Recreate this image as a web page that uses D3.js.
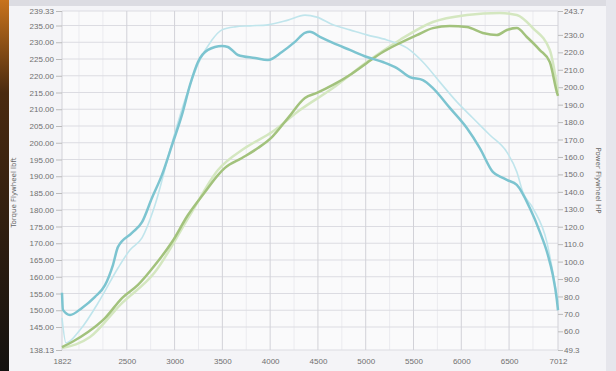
<!DOCTYPE html>
<html>
<head>
<meta charset="utf-8">
<script src="https://cdn.jsdelivr.net/npm/d3@7"></script>
<style>
  body { margin: 0; background: #f2f2f5; }
  svg { display: block; font-family: "DejaVu Sans", sans-serif; }
</style>
</head>
<body>
<script>
// rpm, torque (lbft, left axis) and power (HP, right axis)
const torqueRunA = [
  [1822, 155.2], [1832, 150.1], [1906, 148.6], [2031, 150.7], [2167, 154.0], [2272, 157.5],
  [2355, 163.5], [2408, 168.9], [2554, 173.1], [2659, 176.3], [2763, 183.5], [2868, 190.4],
  [2973, 199.3], [3077, 208.3], [3161, 217.2], [3245, 224.1], [3349, 227.7], [3496, 228.9],
  [3558, 228.6], [3663, 226.2], [3841, 225.3], [3977, 224.7], [4123, 227.1], [4259, 230.1],
  [4364, 232.8], [4416, 233.1], [4521, 231.6], [4657, 229.8], [4834, 227.7], [5012, 225.6],
  [5180, 224.1], [5326, 222.3], [5462, 219.6], [5598, 218.7], [5703, 216.3], [5880, 210.4],
  [6058, 204.4], [6194, 198.4], [6330, 191.3], [6435, 189.5], [6477, 188.9], [6581, 187.4],
  [6717, 180.5], [6822, 173.4], [6906, 166.5], [6958, 160.5], [7000, 153.1], [7012, 150.0]
];
const torqueRunB = [
  [1822, 147.7], [1864, 140.2], [2010, 144.1], [2219, 153.1], [2408, 162.6], [2533, 168.0],
  [2659, 171.6], [2795, 181.4], [2952, 197.8], [3109, 212.8], [3266, 224.7], [3391, 230.7],
  [3496, 233.7], [3632, 234.6], [3789, 234.9], [3977, 235.2], [4186, 236.6], [4364, 238.1],
  [4489, 237.5], [4657, 235.2], [4834, 233.7], [5012, 232.2], [5221, 230.7], [5431, 228.3],
  [5598, 224.1], [5776, 218.1], [5954, 212.2], [6121, 207.4], [6299, 202.3], [6477, 197.2],
  [6581, 191.3], [6644, 185.3], [6749, 180.5], [6895, 170.4], [6958, 161.4], [7012, 152.5]
];
const powerRunA = [
  [1822, 51.0], [1927, 53.9], [2094, 59.6], [2272, 67.6], [2450, 79.1], [2617, 86.6],
  [2795, 98.0], [2973, 111.2], [3140, 126.7], [3318, 139.9], [3454, 149.6], [3527, 153.7],
  [3705, 159.4], [3872, 165.1], [4019, 171.4], [4186, 182.3], [4364, 193.8], [4489, 196.7],
  [4657, 201.3], [4834, 207.0], [5012, 213.9], [5180, 220.2], [5357, 225.3], [5535, 229.9],
  [5703, 233.9], [5880, 235.1], [6058, 234.5], [6225, 231.1], [6372, 229.9], [6477, 232.8],
  [6581, 233.9], [6686, 228.8], [6822, 221.3], [6926, 214.4], [7000, 197.2], [7012, 195.0]
];
const powerRunB = [
  [1822, 50.4], [2115, 56.7], [2429, 75.1], [2795, 94.0], [3161, 126.7], [3454, 152.5],
  [3736, 165.1], [4019, 174.3], [4312, 186.9], [4657, 199.5], [5012, 214.5], [5357, 227.1],
  [5703, 237.4], [6058, 241.4], [6404, 242.6], [6581, 241.4], [6749, 233.9], [6926, 221.3],
  [7012, 197.2]
];

const rpmTicks = [1822, 2500, 3000, 3500, 4000, 4500, 5000, 5500, 6000, 6500, 7012];
const torqueTicks = [239.33, 235, 230, 225, 220, 215, 210, 205, 200, 195, 190, 185, 180,
  175, 170, 165, 160, 155, 150, 145, 138.13];
const powerTicks = [243.7, 230, 220, 210, 200, 190, 180, 170, 160, 150, 140, 130, 120,
  110, 100, 90, 80, 70, 60, 49.3];

const width = 616, height = 371;
const margin = { top: 11, right: 58, bottom: 21, left: 62 };

const svg = d3.select("body").append("svg")
  .attr("width", width)
  .attr("height", height);

// photo edge on the left
const grad = svg.append("defs").append("linearGradient")
  .attr("id", "edge").attr("x1", 0).attr("y1", 0).attr("x2", 0).attr("y2", 1);
grad.append("stop").attr("offset", "0%").attr("stop-color", "#c8731c");
grad.append("stop").attr("offset", "25%").attr("stop-color", "#4a2a10");
grad.append("stop").attr("offset", "100%").attr("stop-color", "#141210");

svg.append("rect").attr("x", 8).attr("y", 0).attr("width", 600).attr("height", height)
  .attr("fill", "#f4f4f7");
svg.append("rect").attr("x", 8).attr("y", 0).attr("width", 600).attr("height", 6)
  .attr("fill", "#dcdce2");
svg.append("rect").attr("x", 0).attr("y", 0).attr("width", 9).attr("height", height)
  .attr("fill", "url(#edge)");
svg.append("rect").attr("x", 606).attr("y", 0).attr("width", 10).attr("height", height)
  .attr("fill", "#e6e6ec");

const x = d3.scaleLinear()
  .domain([1822, 7012])
  .range([margin.left, width - margin.right]);

const yT = d3.scaleLinear()
  .domain([138.13, 239.33])
  .range([height - margin.bottom, margin.top]);

const yP = d3.scaleLinear()
  .domain([49.3, 243.7])
  .range([height - margin.bottom, margin.top]);

svg.append("rect")
  .attr("x", margin.left).attr("y", margin.top)
  .attr("width", x(7012) - x(1822)).attr("height", yT(138.13) - yT(239.33))
  .attr("fill", "#fafafb");

// grid
const minor = d3.range(2000, 7000, 250).filter(v => !rpmTicks.includes(v));
svg.append("g").selectAll("line")
  .data(minor)
  .enter().append("line")
  .attr("x1", d => x(d)).attr("x2", d => x(d))
  .attr("y1", margin.top).attr("y2", height - margin.bottom)
  .attr("stroke", "#ebebef");

svg.append("g").selectAll("line")
  .data(torqueTicks)
  .enter().append("line")
  .attr("x1", margin.left).attr("x2", width - margin.right)
  .attr("y1", d => yT(d)).attr("y2", d => yT(d))
  .attr("stroke", "#dcdce2");

svg.append("g").selectAll("line")
  .data(rpmTicks)
  .enter().append("line")
  .attr("x1", d => x(d)).attr("x2", d => x(d))
  .attr("y1", margin.top).attr("y2", height - margin.bottom)
  .attr("stroke", "#d2d2d8");

// axes
const axisStyle = g => {
  g.select(".domain").remove();
  g.selectAll(".tick line").attr("stroke", "#bbb");
  g.selectAll(".tick text").attr("fill", "#707070").style("font-size", "8px");
};

svg.append("g")
  .attr("transform", `translate(${margin.left},0)`)
  .call(d3.axisLeft(yT).tickValues(torqueTicks).tickFormat(d3.format(".2f")).tickSize(6).tickPadding(2))
  .call(axisStyle);

svg.append("g")
  .attr("transform", `translate(${width - margin.right},0)`)
  .call(d3.axisRight(yP).tickValues(powerTicks).tickFormat(d3.format(".1f")).tickSize(5).tickPadding(1))
  .call(axisStyle);

svg.append("g")
  .attr("transform", `translate(0,${height - margin.bottom})`)
  .call(d3.axisBottom(x).tickValues(rpmTicks).tickFormat(d3.format("d")).tickSize(0).tickPadding(8))
  .call(axisStyle);

svg.append("text")
  .attr("transform", `translate(16,${(margin.top + height - margin.bottom) / 2 + 12}) rotate(-90)`)
  .attr("text-anchor", "middle")
  .attr("fill", "#666")
  .style("font-size", "7px")
  .text("Torque Flywheel lbft");

svg.append("text")
  .attr("transform", `translate(596,${(margin.top + height - margin.bottom) / 2}) rotate(90)`)
  .attr("text-anchor", "middle")
  .attr("fill", "#666")
  .style("font-size", "7px")
  .text("Power Flywheel HP");

// curves
const lineT = d3.line().x(d => x(d[0])).y(d => yT(d[1])).curve(d3.curveMonotoneX);
const lineP = d3.line().x(d => x(d[0])).y(d => yP(d[1])).curve(d3.curveMonotoneX);

svg.append("path").datum(powerRunB)
  .attr("fill", "none").attr("stroke", "#d4e7c0").attr("stroke-width", 2.5).attr("d", lineP);
svg.append("path").datum(torqueRunB)
  .attr("fill", "none").attr("stroke", "#c0e5ec").attr("stroke-width", 1.6).attr("d", lineT);
svg.append("path").datum(powerRunA)
  .attr("fill", "none").attr("stroke", "#a2c27c").attr("stroke-width", 2.5).attr("d", lineP);
svg.append("path").datum(torqueRunA)
  .attr("fill", "none").attr("stroke", "#7cc4d0").attr("stroke-width", 2.5).attr("d", lineT);
</script>
</body>
</html>
